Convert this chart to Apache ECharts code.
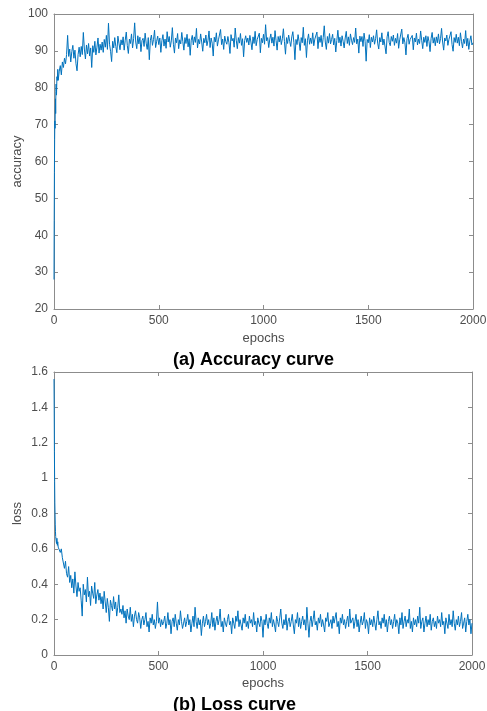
<!DOCTYPE html>
<html>
<head>
<meta charset="utf-8">
<script src="https://cdn.jsdelivr.net/npm/echarts@6/dist/echarts.min.js"></script>
<style>
html,body{margin:0;padding:0;background:#fff;overflow:hidden;}
#c{width:487px;height:711px;}
</style>
</head>
<body>
<div id="c"></div>
<script>
// ---- data ----
const xTicks = [0, 500, 1000, 1500, 2000];
const accTicks = [20, 30, 40, 50, 60, 70, 80, 90, 100];
const lossTicks = [0, 0.2, 0.4, 0.6, 0.8, 1, 1.2, 1.4, 1.6];

// first epochs (sampled densely)
const earlyEpochs = [0,1,2,3,4,5,6,7,8,9,10,12,14,16,18,20];
const earlyAcc = [28,44,57,66,71,69,74,77,73,79,81,78,83,82,85,82];
const earlyLoss = [1.56,1.38,1.15,0.98,0.86,0.80,0.74,0.70,0.67,0.66,0.65,0.63,0.66,0.62,0.64,0.61];

// epochs 25..2000, every 5 epochs
const mainStart = 25, mainStep = 5;
const accMain = [
84.5,86,83.5,87,85.5,88,86.5,89,94.2,88.5,90.5,87,89.8,91.5,88,90.2,86.5,84.6,89,91,
88.4,91.2,89,95,90.5,87.8,91.6,89.2,92,88.6,90.8,85.5,91.4,89.6,92.6,88.9,91,93.5,89.4,91.8,
90.2,92.4,89.6,93.1,91,94.2,90.4,97.5,91.8,89.9,87.1,92.6,90.8,93.6,91.2,89.5,94,92.1,90.3,93,
91.6,93.8,90.2,92.9,95.1,91.4,89.3,93.2,92,94.6,90.8,93.3,97.6,92.4,90.6,94.1,91.9,93.7,89.8,92.8,
93.4,91.2,94.8,92.1,90.4,93.6,87.6,92.9,94.3,91.5,93.1,95.6,90.9,92.6,94,91.7,93.5,89.6,92.8,94.4,
91.3,93.2,90.7,95.2,92.4,93.9,91,92.7,96.3,91.8,89.4,93.5,92.2,94.7,90.6,93,91.9,95,92.5,90.2,
93.6,92,94.5,91.1,93.3,88.8,92.9,94.2,91.6,93.8,92.3,96.1,90.8,93.1,91.9,94.6,92.4,89.9,93.4,92.2,
94.3,91.4,92.8,95.4,90.9,93.5,92.1,88.6,93.7,92.4,94.9,91.3,93,92.6,95.8,91.7,93.2,90.4,94,92.5,
91.8,93.9,92.2,89.3,94.4,92.7,93.4,91,96.2,92.9,90.6,93.6,92.1,94.7,91.5,93.3,88.4,92.8,94.1,92.3,
93.5,91.6,94.2,92.4,90.3,93.8,92,95.3,91.4,93.1,92.6,94.8,89.5,93.4,92.2,94.5,91.8,97.1,92.7,93.6,
90.9,93.2,94.6,92.1,93.7,91.3,95.5,92.8,90.2,93.9,92.4,94.1,91.7,93.3,96,92.5,89.1,93.6,92,94.3,
92.6,91.2,93.8,95.2,92.3,87.6,93.1,91.7,94.4,92.5,90.1,93.6,92.2,96.4,91.5,93.3,88.2,92.9,94.6,91.8,
93.5,92,94.9,91.4,93.2,92.7,95.1,90.6,93.8,92.3,94.2,91.1,93.6,96.8,92.4,90.4,93.9,92.1,94.7,91.9,
93.1,94.5,91.6,93.4,89.7,92.8,95.6,92.2,93.7,91.3,94.1,92.6,90.8,93.5,95.3,92,93.8,91.5,94.6,92.9,
91.7,93.6,92.3,96.2,91.9,93.2,89.4,94,92.5,93.9,91.2,94.8,92.6,87.2,93.1,92.2,94.4,90.9,93.7,92.4,
94.1,91.8,93.3,95.7,92.1,90.5,93.6,92.4,94.9,91.6,93.2,92.7,89.2,93.8,95.2,92.3,91.4,93.9,92.6,94.3,
91.5,93.4,92.1,94.7,90.7,93,92.5,95.9,91.9,93.6,92.2,88.9,93.3,94.5,91.8,93.1,92.7,94.2,90.3,93.5,
92.4,94.8,91.6,93.2,92,95.4,92.9,90.6,93.7,92.3,94.1,91.2,93.9,92.5,89.8,93.4,95,92.1,93.6,91.4,
93.8,92.2,94.6,91.9,93.3,96.1,92.4,90.2,93.5,92.7,94.3,91.5,93.1,92.8,95.2,91.7,89.9,93.6,92.3,94.5,
92.1,93.7,91.4,94.9,92.6,90.8,93.2,92,95.5,91.3,93.4,90.4,92.7,94.1,91.6,92.2
];
const lossMain = [
0.61,0.58,0.6,0.55,0.52,0.49,0.53,0.46,0.44,0.5,0.41,0.45,0.38,0.43,0.35,0.47,0.39,0.33,0.41,0.36,
0.38,0.31,0.22,0.4,0.34,0.37,0.3,0.44,0.33,0.36,0.28,0.39,0.35,0.32,0.41,0.29,0.34,0.37,0.31,0.35,
0.29,0.33,0.26,0.36,0.3,0.24,0.32,0.27,0.19,0.31,0.28,0.25,0.33,0.26,0.3,0.22,0.27,0.34,0.24,0.26,
0.23,0.28,0.21,0.25,0.18,0.26,0.22,0.2,0.27,0.19,0.23,0.16,0.22,0.25,0.2,0.18,0.24,0.21,0.15,0.2,
0.22,0.17,0.2,0.24,0.16,0.19,0.13,0.21,0.18,0.23,0.17,0.2,0.15,0.19,0.3,0.18,0.21,0.16,0.2,0.17,
0.19,0.22,0.15,0.18,0.24,0.17,0.2,0.12,0.19,0.21,0.16,0.23,0.18,0.14,0.2,0.17,0.25,0.19,0.15,0.18,
0.21,0.16,0.19,0.23,0.17,0.2,0.13,0.18,0.22,0.16,0.27,0.19,0.15,0.21,0.17,0.2,0.11,0.18,0.22,0.16,
0.19,0.23,0.17,0.2,0.15,0.18,0.24,0.16,0.21,0.14,0.19,0.22,0.17,0.2,0.26,0.16,0.19,0.13,0.21,0.18,
0.16,0.2,0.23,0.17,0.19,0.12,0.21,0.18,0.15,0.22,0.19,0.25,0.16,0.2,0.17,0.14,0.21,0.18,0.23,0.16,
0.19,0.15,0.22,0.18,0.2,0.16,0.24,0.17,0.19,0.13,0.21,0.18,0.16,0.22,0.19,0.1,0.2,0.17,0.23,0.18,
0.15,0.21,0.18,0.24,0.16,0.2,0.17,0.13,0.22,0.19,0.16,0.21,0.26,0.18,0.15,0.2,0.17,0.23,0.14,0.19,
0.21,0.16,0.19,0.23,0.17,0.12,0.2,0.18,0.24,0.16,0.21,0.15,0.19,0.22,0.17,0.2,0.14,0.27,0.18,0.1,
0.19,0.22,0.16,0.2,0.25,0.17,0.19,0.14,0.21,0.18,0.23,0.16,0.2,0.17,0.13,0.21,0.19,0.24,0.16,0.18,
0.2,0.15,0.22,0.18,0.17,0.24,0.16,0.19,0.12,0.21,0.18,0.23,0.17,0.2,0.15,0.19,0.22,0.16,0.26,0.18,
0.17,0.21,0.15,0.19,0.23,0.16,0.2,0.13,0.18,0.22,0.17,0.19,0.24,0.15,0.2,0.18,0.12,0.21,0.17,0.2,
0.16,0.22,0.18,0.14,0.2,0.25,0.17,0.19,0.15,0.21,0.18,0.23,0.16,0.2,0.13,0.19,0.22,0.17,0.2,0.15,
0.19,0.23,0.16,0.2,0.18,0.12,0.21,0.17,0.24,0.15,0.19,0.22,0.16,0.2,0.18,0.26,0.15,0.19,0.13,0.21,
0.17,0.2,0.16,0.22,0.18,0.27,0.15,0.19,0.21,0.13,0.18,0.22,0.16,0.2,0.17,0.23,0.14,0.19,0.21,0.16,
0.19,0.15,0.22,0.18,0.2,0.16,0.24,0.17,0.19,0.12,0.21,0.18,0.15,0.23,0.17,0.2,0.16,0.25,0.18,0.14,
0.2,0.17,0.22,0.16,0.19,0.24,0.15,0.18,0.21,0.13,0.19,0.23,0.17,0.2,0.12,0.18
];

// ---- build ----
const epochs = earlyEpochs.slice();
for (let i = 0; i < accMain.length; i++) epochs.push(mainStart + i * mainStep);
const acc = earlyAcc.concat(accMain);
const loss = earlyLoss.concat(lossMain);
const accData = epochs.map((e, i) => [e, acc[i]]);
const lossData = epochs.map((e, i) => [e, loss[i]]);

const FONT = '"Liberation Sans", Arial, Helvetica, sans-serif';
const AXIS_COL = '#8c8c8c';
const TXT_COL = '#4d4d4d';
const LINE_COL = '#0072BD';
const plain = v => String(v);

function xAx(grid, top) {
  return {
    type: 'value', gridIndex: grid, position: top ? 'top' : 'bottom',
    min: xTicks[0], max: xTicks[xTicks.length - 1], interval: xTicks[1] - xTicks[0],
    name: top ? '' : 'epochs', nameLocation: 'middle', nameGap: grid === 0 ? 23 : 22,
    nameMoveOverlap: false,
    nameTextStyle: { color: TXT_COL, fontFamily: FONT, fontSize: 13 },
    axisLine: { show: true, onZero: false, lineStyle: { color: AXIS_COL, width: 1 } },
    axisTick: { show: true, inside: true, length: 4, lineStyle: { color: AXIS_COL } },
    axisLabel: { show: !top, color: TXT_COL, fontFamily: FONT, fontSize: 12, margin: 6, formatter: plain },
    splitLine: { show: false }
  };
}
function yAx(grid, right, ticks, name, gap) {
  return {
    type: 'value', gridIndex: grid, position: right ? 'right' : 'left',
    min: ticks[0], max: ticks[ticks.length - 1], interval: ticks[1] - ticks[0],
    name: right ? '' : name, nameLocation: 'middle', nameGap: gap,
    nameMoveOverlap: false,
    nameTextStyle: { color: TXT_COL, fontFamily: FONT, fontSize: 13 },
    axisLine: { show: true, onZero: false, lineStyle: { color: AXIS_COL, width: 1 } },
    axisTick: { show: true, inside: true, length: 4, lineStyle: { color: AXIS_COL } },
    axisLabel: { show: !right, color: TXT_COL, fontFamily: FONT, fontSize: 12, margin: 6, formatter: plain },
    splitLine: { show: false }
  };
}

const chart = echarts.init(document.getElementById('c'), null, { renderer: 'canvas' });
chart.setOption({
  animation: false,
  backgroundColor: '#ffffff',
  title: [
    { text: '(a) Accuracy curve', left: 168, top: 346,
      textStyle: { fontFamily: FONT, fontSize: 18, fontWeight: 'bold', color: '#000' } },
    { text: '(b) Loss curve', left: 168, top: 691,
      textStyle: { fontFamily: FONT, fontSize: 18, fontWeight: 'bold', color: '#000' } }
  ],
  grid: [
    { left: 54, top: 14, width: 419, height: 295, containLabel: false, outerBoundsMode: 'none' },
    { left: 54, top: 372, width: 418, height: 283, containLabel: false, outerBoundsMode: 'none' }
  ],
  xAxis: [xAx(0, false), xAx(0, true), xAx(1, false), xAx(1, true)],
  yAxis: [
    yAx(0, false, accTicks, 'accuracy', 30),
    yAx(0, true, accTicks, '', 0),
    yAx(1, false, lossTicks, 'loss', 30),
    yAx(1, true, lossTicks, '', 0)
  ],
  series: [
    { type: 'line', xAxisIndex: 0, yAxisIndex: 0, data: accData, showSymbol: false,
      lineStyle: { color: LINE_COL, width: 1 }, itemStyle: { color: LINE_COL } },
    { type: 'line', xAxisIndex: 2, yAxisIndex: 2, data: lossData, showSymbol: false,
      lineStyle: { color: LINE_COL, width: 1 }, itemStyle: { color: LINE_COL } }
  ]
});
</script>
</body>
</html>
